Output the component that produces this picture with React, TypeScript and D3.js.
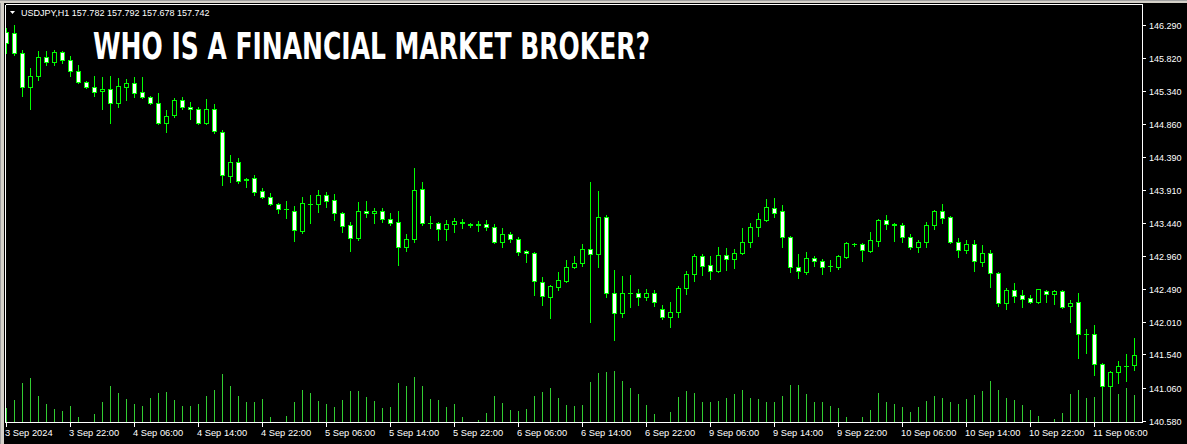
import React from "react";
import * as d3 from "d3";

const opens = [146.189,146.175,145.887,145.396,145.555,145.829,145.757,145.901,145.786,145.627,145.468,145.396,145.339,145.368,145.166,145.396,145.454,145.324,145.252,145.166,144.877,144.993,145.209,145.108,145.079,144.877,145.079,144.747,144.113,144.315,144.070,144.084,143.897,143.810,143.709,143.637,143.608,143.320,143.709,143.709,143.839,143.767,143.579,143.406,143.219,143.608,143.579,143.608,143.493,143.450,143.089,143.204,143.925,143.435,143.435,143.349,143.421,143.435,143.421,143.421,143.421,143.378,143.161,143.277,143.204,143.031,143.003,142.584,142.368,142.512,142.599,142.801,142.858,143.060,142.988,143.522,142.426,142.137,142.426,142.426,142.368,142.426,142.195,142.080,142.152,142.498,142.699,142.959,142.829,142.743,142.974,142.916,143.003,143.161,143.378,143.478,143.651,143.608,143.233,142.801,142.728,142.931,142.887,142.815,142.801,142.945,143.132,143.132,143.031,143.175,143.478,143.421,143.406,143.233,143.089,143.161,143.406,143.608,143.522,143.161,143.046,143.132,142.873,143.003,142.714,142.282,142.469,142.397,142.354,142.296,142.455,142.411,142.455,142.238,142.296,141.835,141.835,141.402,141.085,141.286,141.373,141.388];
const highs = [146.247,146.290,145.930,145.670,145.915,145.915,145.930,145.915,145.843,145.713,145.483,145.555,145.541,145.555,145.526,145.512,145.541,145.541,145.266,145.310,145.065,145.238,145.252,145.180,145.108,145.223,145.151,144.776,144.416,144.373,144.084,144.127,143.940,143.868,143.724,143.753,143.680,143.810,143.839,143.911,143.882,143.853,143.594,143.450,143.738,143.753,143.651,143.651,143.579,143.608,143.277,144.228,144.026,143.536,143.450,143.478,143.507,143.493,143.435,143.464,143.478,143.421,143.363,143.305,143.233,143.046,143.017,142.656,142.541,142.728,142.902,142.959,143.132,144.026,143.897,143.550,142.757,142.671,142.685,142.483,142.483,142.469,142.253,142.296,142.527,142.743,142.988,142.988,142.959,143.089,143.074,143.060,143.363,143.435,143.579,143.781,143.796,143.695,143.248,142.988,143.017,142.959,142.916,142.902,142.974,143.161,143.147,143.147,143.305,143.493,143.550,143.435,143.435,143.277,143.190,143.450,143.623,143.709,143.536,143.219,143.190,143.190,143.118,143.046,142.728,142.498,142.570,142.469,142.397,142.483,142.469,142.469,142.469,142.325,142.426,141.907,141.964,141.416,141.301,141.445,141.546,141.777];
const lows = [145.887,145.858,145.266,145.079,145.497,145.713,145.713,145.742,145.555,145.454,145.382,145.266,145.079,144.877,145.108,145.209,145.252,145.238,145.151,144.863,144.747,144.964,145.079,144.935,144.863,144.863,144.733,143.983,144.026,144.012,143.954,143.839,143.796,143.695,143.579,143.507,143.175,143.291,143.435,143.594,143.666,143.478,143.305,143.031,143.190,143.522,143.435,143.450,143.406,142.830,143.031,143.161,143.406,143.363,143.190,143.190,143.305,143.363,143.378,143.320,143.334,143.147,143.089,143.161,142.974,142.873,142.397,142.253,142.065,142.469,142.584,142.786,142.815,142.008,142.801,142.368,141.748,142.080,142.224,142.253,142.325,142.238,142.051,141.936,142.080,142.411,142.599,142.685,142.627,142.728,142.757,142.786,142.988,143.089,143.248,143.464,143.522,143.089,142.728,142.642,142.699,142.815,142.699,142.743,142.772,142.931,143.103,142.887,143.017,143.103,143.349,143.175,143.161,143.060,143.017,143.089,143.349,143.435,143.147,142.945,143.003,142.743,142.815,142.512,142.238,142.195,142.296,142.224,142.282,142.282,142.296,142.267,142.209,142.008,141.489,141.561,141.243,141.056,141.070,141.128,141.157,141.315];
const closes = [146.031,145.887,145.396,145.555,145.829,145.757,145.901,145.786,145.627,145.468,145.396,145.324,145.368,145.166,145.411,145.454,145.310,145.252,145.166,144.877,144.978,145.209,145.108,145.079,144.877,145.079,144.762,144.127,144.315,144.041,144.055,143.882,143.810,143.709,143.637,143.632,143.334,143.724,143.705,143.839,143.753,143.579,143.392,143.219,143.608,143.579,143.608,143.493,143.435,143.089,143.204,143.911,143.435,143.430,143.349,143.421,143.464,143.450,143.406,143.410,143.378,143.161,143.277,143.204,143.017,143.003,142.599,142.383,142.527,142.613,142.801,142.858,143.060,142.988,143.522,142.426,142.137,142.426,142.422,142.368,142.426,142.296,142.080,142.152,142.498,142.699,142.959,142.815,142.743,142.974,142.916,143.003,143.161,143.378,143.493,143.666,143.579,143.233,142.801,142.743,142.931,142.887,142.801,142.812,142.959,143.147,143.128,143.046,143.190,143.478,143.421,143.406,143.233,143.089,143.161,143.406,143.608,143.507,143.161,143.046,143.132,142.887,143.003,142.714,142.282,142.469,142.383,142.340,142.296,142.480,142.411,142.455,142.224,142.282,141.835,141.830,141.402,141.085,141.286,141.373,141.369,141.532];
const volumes = [1500,2300,4000,4500,2700,1900,1400,1200,1700,600,100,900,2100,3700,3000,2400,1900,1700,2500,3000,3100,2300,1700,1700,1900,2700,3300,4900,3700,2700,2100,2100,2400,600,100,700,2100,3300,3000,2200,1900,1600,2300,3200,3200,2600,2200,1500,1600,4000,3700,4600,3700,2400,2300,1600,1900,600,0,300,1000,2700,2000,1300,1200,1400,2700,3100,3500,2500,1800,1700,1800,4100,5000,5100,5200,4200,3500,2900,1800,900,100,1100,2600,3200,3000,2100,2100,2200,2500,2900,3300,2500,2400,2100,2100,2700,3800,3800,2900,2100,2100,1700,1500,600,0,600,1300,3000,2100,1900,1600,1100,1600,2200,2700,2500,2100,1900,2400,2800,3200,4200,3300,2500,2300,1800,1300,700,100,400,1000,2900,3300,2500,2600,4200,3700,2900,3500,2800];
const timeLabels = ["3 Sep 2024","3 Sep 22:00","4 Sep 06:00","4 Sep 14:00","4 Sep 22:00","5 Sep 06:00","5 Sep 14:00","5 Sep 22:00","6 Sep 06:00","6 Sep 14:00","6 Sep 22:00","9 Sep 06:00","9 Sep 14:00","9 Sep 22:00","10 Sep 06:00","10 Sep 14:00","10 Sep 22:00","11 Sep 06:00"];
const priceTicks = [146.29,145.82,145.34,144.86,144.39,143.91,143.44,142.96,142.49,142.01,141.54,141.06,140.58];
const headerText = "USDJPY,H1  157.782 157.792 157.678 157.742";
const titleText = "WHO IS A FINANCIAL MARKET BROKER?";

const W = 1187;
const H = 444;
const WICK = "#00ff00";
const VOL = "#32cd32";
const FONT = "'Liberation Sans', Arial, sans-serif";

export default function App() {
  const N = opens.length;
  const left = 5, right = 1142, top = 4, bottom = 422;
  const x = d3.scaleLinear().domain([0, N - 1]).range([6, 6 + 8 * (N - 1)]);
  const y = d3.scaleLinear().domain([140.58, 146.29]).range([421, 25]);
  const yv = d3.scaleLinear().domain([0, 6000]).range([423, 363]);
  const ry = (v: number) => Math.round(y(v));

  return (
    <svg width={W} height={H} style={{ position: "absolute", left: 0, top: 0, display: "block" }}>
      <defs>
        <clipPath id="plot">
          <rect x={left + 1} y={top + 1} width={right - left - 1} height={bottom - top - 1} />
        </clipPath>
      </defs>
      <rect x={0} y={0} width={W} height={H} fill="#000" />
      {/* window edges */}
      <rect x={0} y={0} width={4} height={H} fill="#d4d0c8" />
      <rect x={0} y={0} width={1} height={H} fill="#a0a0a0" />
      <rect x={0} y={0} width={W} height={3} fill="#d4d0c8" />
      <rect x={0} y={0} width={W} height={1} fill="#a0a0a0" />
      {/* frame */}
      <g shapeRendering="crispEdges" stroke="#fff" strokeWidth={1}>
        <line x1={left + 0.5} y1={top + 0.5} x2={right + 0.5} y2={top + 0.5} />
        <line x1={left + 0.5} y1={top + 0.5} x2={left + 0.5} y2={bottom + 0.5} />
        <line x1={right + 0.5} y1={top + 0.5} x2={right + 0.5} y2={bottom + 0.5} />
        <line x1={left + 0.5} y1={bottom + 0.5} x2={right + 0.5} y2={bottom + 0.5} />
      </g>
      <g clipPath="url(#plot)" shapeRendering="crispEdges">
        {volumes.map((v, i) => {
          const cx = Math.round(x(i)) + 0.5;
          const yt = Math.round(yv(v));
          if (v <= 0) return null;
          return <line key={"v" + i} x1={cx} x2={cx} y1={yt} y2={bottom} stroke={VOL} strokeWidth={1} />;
        })}
        {opens.map((o, i) => {
          const c = closes[i];
          const cx = Math.round(x(i));
          const yH = ry(highs[i]);
          const yL = ry(lows[i]);
          const yTop = ry(Math.max(o, c));
          const yBot = ry(Math.min(o, c));
          const bear = c < o;
          const h = yBot - yTop;
          return (
            <g key={"c" + i}>
              <line x1={cx + 0.5} x2={cx + 0.5} y1={yH} y2={yL + 1} stroke={WICK} strokeWidth={1} />
              {h >= 1 ? (
                <rect x={cx - 1.5} y={yTop + 0.5} width={4} height={h} fill={bear ? "#fff" : "#000"} stroke={WICK} strokeWidth={1} />
              ) : (
                <line x1={cx - 2} x2={cx + 3} y1={yTop + 0.5} y2={yTop + 0.5} stroke={WICK} strokeWidth={1} />
              )}
            </g>
          );
        })}
      </g>
      {/* price axis */}
      <g shapeRendering="crispEdges">
        {priceTicks.map((p) => {
          const yy = ry(p);
          return (
            <g key={"p" + p}>
              <line x1={right + 1} x2={right + 4} y1={yy + 0.5} y2={yy + 0.5} stroke="#fff" />
              <text x={1149} y={yy + 3.5} fill="#fff" fontFamily={FONT} fontSize={9}>{p.toFixed(3)}</text>
            </g>
          );
        })}
      </g>
      {/* time axis */}
      <g shapeRendering="crispEdges">
        {timeLabels.map((t, j) => {
          const cx = Math.round(x(j * 8));
          return (
            <g key={"t" + j}>
              <line x1={cx + 0.5} x2={cx + 0.5} y1={bottom + 1} y2={bottom + 5} stroke="#fff" />
              <text x={cx - 1} y={436} fill="#fff" fontFamily={FONT} fontSize={9.3}>{t}</text>
            </g>
          );
        })}
      </g>
      {/* header */}
      <path d="M10,11 L15,11 L12.5,14 Z" fill="#fff" />
      <text x={21} y={16} fill="#fff" fontFamily={FONT} fontSize={9}>{headerText}</text>
      <text
        x={93}
        y={58.5}
        fill="#fff"
        fontFamily="'Liberation Sans Narrow', 'DejaVu Sans Condensed', 'Arial Narrow', sans-serif"
        fontWeight="bold"
        fontSize={38}
        textLength={557}
        lengthAdjust="spacingAndGlyphs"
      >
        {titleText}
      </text>
    </svg>
  );
}
